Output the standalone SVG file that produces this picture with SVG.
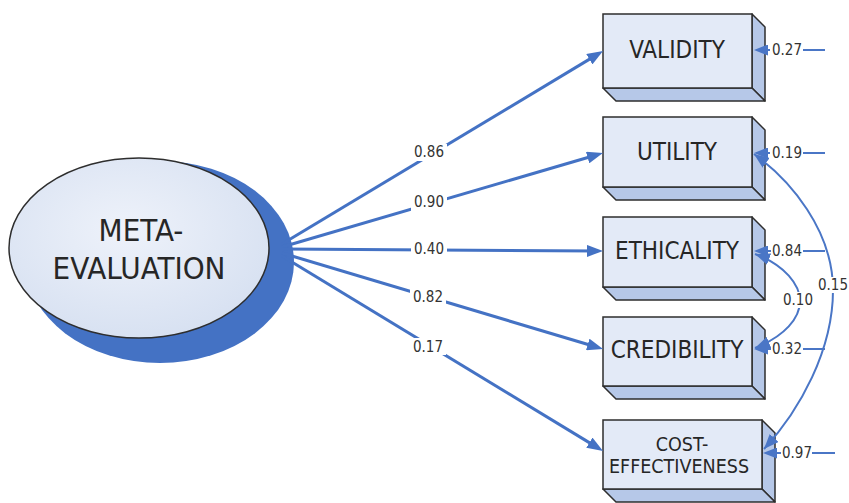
<svg xmlns="http://www.w3.org/2000/svg" width="849" height="503" viewBox="0 0 849 503">
<defs>
<style>
.front{fill:#e3eaf7;stroke:#2e2e2e;stroke-width:1.5}
.side{fill:#b6c8e8;stroke:#2e2e2e;stroke-width:1.5;stroke-linejoin:round}
.ntext{font-family:"DejaVu Sans Condensed","DejaVu Sans",sans-serif;font-size:24px;fill:#262626;text-anchor:middle;dominant-baseline:central}
.stext{font-family:"DejaVu Sans Condensed","DejaVu Sans",sans-serif;font-size:19.5px;fill:#262626;text-anchor:middle;dominant-baseline:central}
.etext{font-family:"DejaVu Sans Condensed","DejaVu Sans",sans-serif;font-size:31px;fill:#262626;text-anchor:middle;dominant-baseline:central}
.lbl{font-family:"DejaVu Sans Condensed","DejaVu Sans",sans-serif;font-size:15px;fill:#333;text-anchor:middle;dominant-baseline:central}
.main{stroke:#4472c4;stroke-width:3;fill:none;marker-end:url(#mainArrow)}
.err{stroke:#4a76c6;stroke-width:2;fill:none;marker-end:url(#errArrow)}
.cov{stroke:#4a76c6;stroke-width:2;fill:none;marker-start:url(#covArrow);marker-end:url(#covArrow)}
.bg{fill:#ffffff}
</style>
<marker id="mainArrow" markerUnits="userSpaceOnUse" markerWidth="16" markerHeight="12" refX="10" refY="6" orient="auto">
<path d="M0,0 L16,6 L0,12 z" fill="#4472c4"/>
</marker>
<marker id="errArrow" markerUnits="userSpaceOnUse" markerWidth="14" markerHeight="11" refX="8" refY="5.5" orient="auto">
<path d="M0,0 L14,5.5 L0,11 z" fill="#4a76c6"/>
</marker>
<marker id="covArrow" markerUnits="userSpaceOnUse" markerWidth="15" markerHeight="12" refX="15" refY="6" orient="auto-start-reverse">
<path d="M0,0 L15,6 L0,12 z" fill="#4a76c6"/>
</marker>
<radialGradient id="ellGrad" cx="0.45" cy="0.4" r="0.65">
<stop offset="0" stop-color="#eef2fa"/>
<stop offset="1" stop-color="#d6e0f1"/>
</radialGradient>
</defs>

<rect x="0" y="0" width="849" height="503" fill="#ffffff"/>

<g id="meta-evaluation">
<ellipse cx="160" cy="262" rx="134" ry="101" fill="#4472c4"/>
<ellipse cx="139" cy="248" rx="130" ry="90" fill="url(#ellGrad)" stroke="#2e2e2e" stroke-width="1.5"/>
<text class="etext" x="141" y="230">META-</text>
<text class="etext" x="139" y="268">EVALUATION</text>
</g>

<g id="validity">
<polygon class="side" points="752,14 765,27 765,101 752,88"/>
<polygon class="side" points="603,88 752,88 765,101 616,101"/>
<rect class="front" x="603" y="14" width="149" height="74"/>
<text class="ntext" x="677" y="50">VALIDITY</text>
</g>

<g id="utility">
<polygon class="side" points="752,117 765,130 765,200 752,187"/>
<polygon class="side" points="603,187 752,187 765,200 616,200"/>
<rect class="front" x="603" y="117" width="149" height="70"/>
<text class="ntext" x="677" y="152">UTILITY</text>
</g>

<g id="ethicality">
<polygon class="side" points="752,217 765,230 765,300 752,287"/>
<polygon class="side" points="603,287 752,287 765,300 616,300"/>
<rect class="front" x="603" y="217" width="149" height="70"/>
<text class="ntext" x="677" y="251">ETHICALITY</text>
</g>

<g id="credibility">
<polygon class="side" points="752,317 765,330 765,399 752,386"/>
<polygon class="side" points="603,386 752,386 765,399 616,399"/>
<rect class="front" x="603" y="317" width="149" height="69"/>
<text class="ntext" x="677" y="350">CREDIBILITY</text>
</g>

<g id="cost-effectiveness">
<polygon class="side" points="762,420 775,433 775,502 762,489"/>
<polygon class="side" points="603,489 762,489 775,502 616,502"/>
<rect class="front" x="603" y="420" width="159" height="69"/>
<text class="stext" x="682" y="444">COST-</text>
<text class="stext" x="679" y="466">EFFECTIVENESS</text>
</g>

<g id="connectors">
<line class="main" x1="282" y1="244" x2="597.9" y2="54.1"/>
<line class="main" x1="282" y1="247" x2="597.2" y2="154.7"/>
<line class="main" x1="282" y1="249" x2="597" y2="251"/>
<line class="main" x1="282" y1="253" x2="597.3" y2="347.3"/>
<line class="main" x1="282" y1="256" x2="597.9" y2="447.9"/>
<rect class="bg" x="411" y="144" width="36" height="17"/>
<text class="lbl" x="429" y="152">0.86</text>
<rect class="bg" x="411" y="194" width="36" height="17"/>
<text class="lbl" x="429" y="202">0.90</text>
<rect class="bg" x="411" y="241" width="36" height="17"/>
<text class="lbl" x="429" y="249">0.40</text>
<rect class="bg" x="410" y="289" width="36" height="17"/>
<text class="lbl" x="428" y="297">0.82</text>
<rect class="bg" x="410" y="338" width="36" height="17"/>
<text class="lbl" x="428" y="347">0.17</text>

<line class="err" x1="825" y1="50" x2="760" y2="50"/>
<line class="err" x1="825" y1="153" x2="760" y2="153"/>
<line class="err" x1="825" y1="251" x2="760" y2="251"/>
<line class="err" x1="825" y1="349" x2="760" y2="349"/>
<line class="err" x1="835" y1="453" x2="769" y2="453"/>

<path class="cov" d="M755,254 C785,265 800,285 800,301 C800,318 785,336 755,348"/>
<path class="cov" d="M754,154 C790,180 833,230 833,290 C833,350 800,410 764,449"/>

<rect class="bg" x="770" y="42" width="33" height="16"/>
<text class="lbl" x="787" y="50">0.27</text>
<rect class="bg" x="770" y="145" width="33" height="16"/>
<text class="lbl" x="787" y="153">0.19</text>
<rect class="bg" x="771" y="243" width="32" height="16"/>
<text class="lbl" x="787" y="251">0.84</text>
<rect class="bg" x="771" y="341" width="32" height="16"/>
<text class="lbl" x="787" y="349">0.32</text>
<rect class="bg" x="781" y="445" width="31" height="16"/>
<text class="lbl" x="797" y="453">0.97</text>
<rect class="bg" x="783" y="292" width="31" height="16"/>
<text class="lbl" x="798" y="300">0.10</text>
<rect class="bg" x="818" y="277" width="31" height="16"/>
<text class="lbl" x="833" y="285">0.15</text>
</g>
</svg>
